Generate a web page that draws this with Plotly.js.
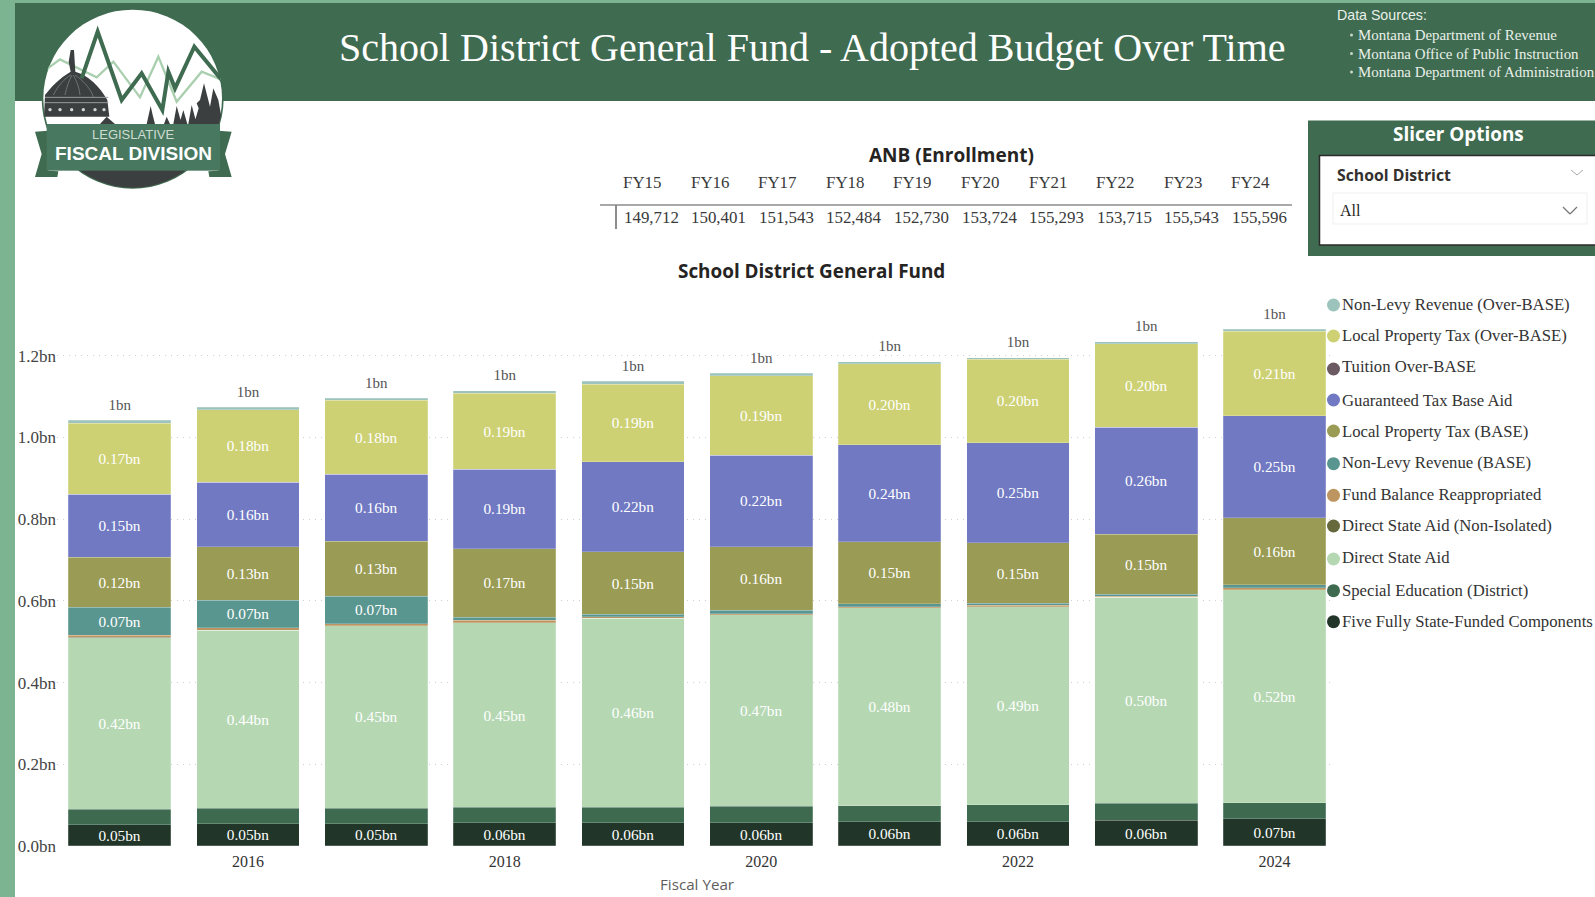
<!DOCTYPE html>
<html>
<head>
<meta charset="utf-8">
<title>School District General Fund</title>
<script src="https://cdn.plot.ly/plotly-3.0.1.min.js"></script>
<style>html,body{margin:0;padding:0;background:#fff;overflow:hidden}#chart{width:1595px;height:897px}</style>
</head>
<body>
<div id="chart"></div>
<script>
// ---------- Data (billions of dollars) ----------
const years = [2015,2016,2017,2018,2019,2020,2021,2022,2023,2024];
const fiveFully     = [.0514,.0546,.0545,.0563,.0563,.0563,.0595,.0595,.0629,.0668];
const specialEd     = [.0384,.0377,.0382,.0384,.0384,.0409,.0392,.0409,.0416,.0392];
const directAid     = [.4206,.4357,.4465,.4519,.4627,.4690,.4840,.4857,.5040,.5207];
const directNonIso  = [.0002,.0002,.0002,.0002,.0002,.0002,.0002,.0002,.0002,.0002];
const fundBalance   = [.0055,.0061,.0049,.0059,.0039,.0024,.0032,.0032,.0032,.0049];
const nonLevyBase   = [.0685,.0673,.0676,.0073,.0059,.0083,.0066,.0049,.0049,.0073];
const localBase     = [.1224,.1312,.1346,.1679,.1525,.1560,.1525,.1476,.1461,.1640];
const gtbAid        = [.1542,.1576,.1640,.1944,.2211,.2235,.2367,.2455,.2627,.2504];
const tuitionOver   = [.0001,.0001,.0001,.0001,.0001,.0001,.0001,.0001,.0001,.0001];
const localOver     = [.1738,.1777,.1802,.1860,.1892,.1944,.1990,.2042,.2042,.2066];
const nonLevyOver   = [.0073,.0059,.0059,.0064,.0073,.0056,.0049,.0039,.0049,.0049];

const seriesNames = ["Five Fully State-Funded Components","Special Education (District)","Direct State Aid",
  "Direct State Aid (Non-Isolated)","Fund Balance Reappropriated","Non-Levy Revenue (BASE)","Local Property Tax (BASE)",
  "Guaranteed Tax Base Aid","Tuition Over-BASE","Local Property Tax (Over-BASE)","Non-Levy Revenue (Over-BASE)"];
const seriesValues = [fiveFully,specialEd,directAid,directNonIso,fundBalance,nonLevyBase,localBase,gtbAid,tuitionOver,localOver,nonLevyOver];
const seriesColors = ["#213528","#3e6a50","#b5d8b3","#66693c","#bd9560","#5a9690","#9a9b54","#7079c2","#6b5a62","#cdd174","#9cc4bc"];

const fyLabels = ["FY15","FY16","FY17","FY18","FY19","FY20","FY21","FY22","FY23","FY24"];
const anbValues = ["149,712","150,401","151,543","152,484","152,730","153,724","155,293","153,715","155,543","155,596"];
const sourceLines = ["Montana Department of Revenue","Montana Office of Public Instruction","Montana Department of Administration"];

// ---------- Page geometry ----------
const W = 1595, H = 897;
const X = px => px / W, Y = py => 1 - py / H;
const SERIF = '"Liberation Serif", serif', SANS = '"Open Sans", sans-serif', ARIAL = '"Liberation Sans", sans-serif';
const GREEN = '#3f6b50', STRIP = '#7cb492';

const plotL = 57, plotR = 1330, y0px = 846, pxPerBn = 408.5, yMax = 1.32;
const firstCentre = 119.65, step = 128.33;

// ---------- Traces ----------
const bars = seriesNames.map((name,i) => ({
  type:'bar', name, x:years, y:seriesValues[i],
  marker:{color:seriesColors[i], line:{color:'rgba(255,255,255,0.35)', width:0.6}},
  text:seriesValues[i].map(v => v >= 0.045 ? v.toFixed(2)+'bn' : ''),
  textposition:'inside', insidetextanchor:'middle', textangle:0, constraintext:'none',
  insidetextfont:{family:SERIF,size:15.3,color:'#ffffff'},
  hovertemplate:'%{x}<br>'+name+': %{y:.2f}bn<extra></extra>'
}));
const totals = years.map((_,k) => seriesValues.reduce((s,a) => s + a[k], 0));
const totalTrace = {type:'scatter', mode:'markers+text', x:years, y:totals, text:totals.map(t => t.toFixed(0)+'bn'),
  marker:{size:9,color:'rgba(0,0,0,0)'},
  textposition:'top center', textfont:{family:SERIF,size:15,color:'#555555'}, hoverinfo:'skip', cliponaxis:false, showlegend:false};

// ---------- Decoration ----------
const rect = (x0,y0,x1,y1,fill,line,lw) => ({type:'rect',xref:'paper',yref:'paper',layer:'below',
  x0:X(x0),x1:X(x1),y0:Y(y0),y1:Y(y1),fillcolor:fill,line:{color:line||fill,width:lw===undefined?0:lw}});
const seg = (x0,y0,x1,y1,c,lw) => ({type:'line',xref:'paper',yref:'paper',layer:'below',
  x0:X(x0),x1:X(x1),y0:Y(y0),y1:Y(y1),line:{color:c,width:lw}});
const note = (text,x,y,font,anchor) => ({text,x:X(x),y:Y(y),xref:'paper',yref:'paper',showarrow:false,
  xanchor:anchor||'center',yanchor:'middle',font,align:'left',borderpad:0,borderwidth:0});

const shapes = [
  rect(0,0,W,897,'#ffffff'),
  rect(0,0,W,3,STRIP), rect(0,0,15,897,STRIP),
  rect(15,3,W,101,GREEN),
  rect(1308,120.5,W+2,256,GREEN),
  rect(1319.5,155.5,W+4,245,'#ffffff','#2b2b2b',1.5),
  rect(1333,193,1587,224,'#ffffff','#efefef',1),
  seg(600,205,1292,205,'#8c8c8c',1.5), seg(616,205,616,229,'#8c8c8c',2),
  seg(1571,170,1577,175,'#a8a8a8',1), seg(1577,175,1583,170,'#a8a8a8',1),
  seg(1563,207,1570,214,'#777777',1.2), seg(1570,214,1577,207,'#777777',1.2)
];
const annotations = [
  note('School District General Fund - Adopted Budget Over Time',812.5,47.5,{family:SERIF,size:40,color:'#ffffff'}),
  note('Data Sources:',1337,15,{family:ARIAL,size:14.2,color:'#e9f0ea'},'left'),
  note('Slicer Options',1458,134.5,{family:SANS,size:18.9,color:'#ffffff',weight:700}),
  note('School District',1337,174.5,{family:SANS,size:15.8,color:'#33302e',weight:700},'left'),
  note('All',1340,210.5,{family:SERIF,size:16,color:'#252423'},'left'),
  note('ANB (Enrollment)',951,155,{family:SANS,size:19,color:'#252423',weight:700}),
  note('School District General Fund',812,270.5,{family:SANS,size:18.9,color:'#252423',weight:700}),
  note('Fiscal Year',697,884,{family:SANS,size:15.2,color:'#605e5c'}),
  note('LEGISLATIVE',133,134.5,{family:ARIAL,size:13,color:'#cfdcd3'}),
  note('FISCAL DIVISION',133,153,{family:ARIAL,size:19,color:'#ffffff',weight:700})
];
sourceLines.forEach((t,i) => {
  const yy = [35,53.5,72][i];
  annotations.push(note(t,1358,yy,{family:SERIF,size:14.9,color:'#e9f0ea'},'left'));
  shapes.push({type:'circle',xref:'paper',yref:'paper',layer:'below',x0:X(1350),x1:X(1353),y0:Y(yy-1.5),y1:Y(yy+1.5),fillcolor:'#c8d6cc',line:{width:0}});
});
fyLabels.forEach((t,i) => {
  annotations.push(note(t,642+i*67.6,183,{family:SERIF,size:16.9,color:'#3a3a3a'}));
  annotations.push(note(anbValues[i],651+i*67.6,217,{family:SERIF,size:16.9,color:'#3a3a3a'}));
});
// Legend, top to bottom
const legendTextY = [304.3,335.7,366.7,400,431,462,494.3,525.3,557.7,590,621];
const legendDotY  = [305,336,369,400,431,463.7,495.3,526,559,590.7,621.7];
seriesNames.slice().reverse().forEach((name,i) => {
  const col = seriesColors[seriesNames.length-1-i];
  annotations.push(note(name,1342,legendTextY[i],{family:SERIF,size:16.7,color:'#333333'},'left'));
  shapes.push({type:'circle',xref:'paper',yref:'paper',layer:'above',x0:X(1327),x1:X(1340),
    y0:Y(legendDotY[i]-6.5),y1:Y(legendDotY[i]+6.5),fillcolor:col,line:{width:0}});
});

// Logo artwork
const logoSvg = `<svg xmlns="http://www.w3.org/2000/svg" width="1200" height="660" viewBox="0 0 1200 660">
<defs><clipPath id="c"><ellipse cx="398" cy="295" rx="270" ry="268"/></clipPath></defs>
<ellipse cx="398" cy="295" rx="273" ry="271" fill="#3f6b50"/>
<ellipse cx="398" cy="295" rx="268" ry="266" fill="#ffffff"/>
<g clip-path="url(#c)">
<polyline points="130,215 180,178 290,232 340,185 420,292 475,170 530,305 605,215 680,245" fill="none" stroke="#a9cfae" stroke-width="7"/>
<path d="M132,350 L135,285 C165,245 195,225 212,215 L206,185 L212,150 L222,150 L226,215 C265,225 300,260 322,300 L328,350 Z" fill="#3c3f40"/>
<path d="M160,285 C175,255 195,235 212,225 M195,285 C200,260 208,240 216,225 M240,285 C238,260 228,240 220,225 M280,290 C270,262 245,238 225,225" stroke="#8a8d8e" stroke-width="2" fill="none"/>
<path d="M135,292 H325 M135,308 H325" stroke="#9a9c9d" stroke-width="3" fill="none"/>
<g fill="#d5d5d5"><circle cx="150" cy="329" r="5"/><circle cx="180" cy="329" r="5"/><circle cx="215" cy="329" r="5"/><circle cx="250" cy="329" r="5"/><circle cx="285" cy="329" r="5"/><circle cx="312" cy="329" r="5"/></g>
<path d="M320,350 L345,372 H300 Z" fill="#3c3f40"/>
<polyline points="245,235 293,95 365,300 425,220 487,330 505,215 525,265 583,140 680,258" fill="none" stroke="#3f6b50" stroke-width="12"/>
<path d="M612,250 L600,300 L590,310 L596,325 L582,372 H668 L655,300 L640,265 L630,320 Z M452,318 L446,345 L440,372 H465 L458,345 Z M530,318 L520,372 H545 Z M550,330 L538,372 H562 Z M575,315 L565,372 H590 Z M500,350 L492,372 H510 Z" fill="#3c3f40"/>
<rect x="100" y="505" width="600" height="70" fill="#3c3f40"/>
</g>
<path d="M105,395 L145,392 V512 L175,514 L172,531 H105 L125,462 Z" fill="#3f6b50"/>
<path d="M695,395 L655,392 V512 L625,514 L628,531 H695 L675,462 Z" fill="#3f6b50"/>
<rect x="140" y="372" width="520" height="140" fill="#48785f"/>
</svg>`;
const images = [{source:'data:image/svg+xml;charset=utf-8,'+encodeURIComponent(logoSvg),
  xref:'paper',yref:'paper',x:0,y:1,sizex:400/W,sizey:220/H,sizing:'stretch',xanchor:'left',yanchor:'top',layer:'above'}];

const layout = {
  width:W, height:H, margin:{l:0,r:0,t:0,b:0,autoexpand:false},
  paper_bgcolor:'#ffffff', plot_bgcolor:'rgba(0,0,0,0)',
  barmode:'stack', bargap:0.2, showlegend:false, hovermode:'closest',
  xaxis:{domain:[X(plotL),X(plotR)], range:[years[0]-(firstCentre-plotL)/step, years[0]+(plotR-firstCentre)/step],
    tick0:2016, dtick:2, showgrid:false, zeroline:false, showline:false, ticks:'outside', ticklen:1, tickcolor:'rgba(0,0,0,0)',
    tickfont:{family:SERIF,size:16,color:'#333333'}, fixedrange:true},
  yaxis:{domain:[Y(y0px),Y(y0px-yMax*pxPerBn)], range:[0,yMax], dtick:0.2, tickformat:'.1f', ticksuffix:'bn',
    showgrid:true, gridcolor:'#cfcfcf', griddash:'1px,5px', gridwidth:1, zeroline:false, showline:false,
    tickfont:{family:SERIF,size:17,color:'#444444'}, fixedrange:true},
  shapes, annotations, images
};
Plotly.newPlot('chart', bars.concat([totalTrace]), layout, {displayModeBar:false, responsive:false});
</script>
</body>
</html>
